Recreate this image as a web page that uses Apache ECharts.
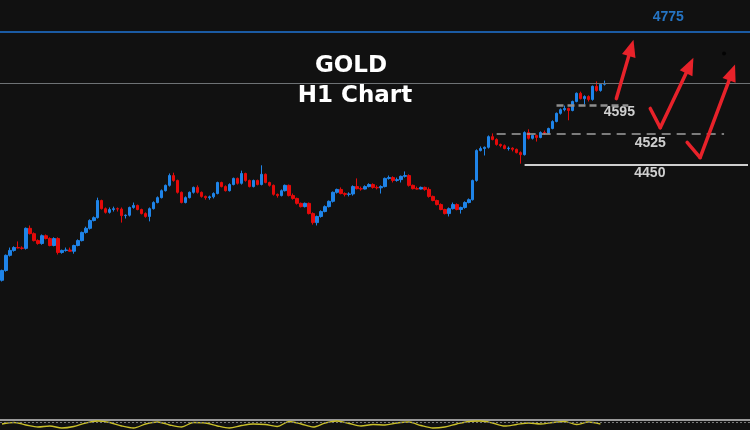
<!DOCTYPE html>
<html><head><meta charset="utf-8">
<script src="https://cdn.jsdelivr.net/npm/echarts/dist/echarts.min.js"></script>
<style>html,body{margin:0;padding:0;background:#111111;overflow:hidden}#c{width:750px;height:430px}</style>
</head><body><div id="c"></div>
<script>
// ---- H1 candles (price) ----
const opens = [4167,4191,4228,4240,4247,4246,4245,4294,4281,4264,
4257,4276,4269,4252,4269,4235,4240,4241,4238,4252,
4264,4284,4294,4313,4320,4362,4342,4333,4340,4342,
4341,4325,4326,4345,4350,4340,4330,4323,4342,4357,
4369,4386,4399,4423,4411,4382,4357,4369,4382,4394,
4382,4372,4369,4371,4379,4406,4396,4386,4401,4416,
4404,4428,4411,4396,4411,4401,4426,4406,4399,4377,
4374,4386,4399,4374,4367,4355,4347,4355,4330,4308,
4323,4335,4347,4360,4382,4389,4379,4377,4378,4396,
4391,4390,4396,4401,4394,4393,4396,4416,4418,4411,
4413,4421,4423,4399,4391,4390,4394,4389,4372,4362,
4352,4340,4330,4342,4352,4340,4345,4357,4364,4411,
4484,4489,4492,4518,4511,4499,4496,4489,4490,4487,
4479,4474,4528,4514,4521,4516,4528,4527,4538,4555,
4575,4584,4587,4582,4604,4624,4611,4616,4609,4641,
4631,4646];
const closes = [4191,4228,4240,4247,4246,4245,4294,4281,4264,4257,
4276,4269,4252,4269,4235,4240,4241,4238,4252,4264,
4284,4294,4313,4320,4362,4342,4333,4340,4342,4341,
4325,4326,4345,4350,4340,4330,4323,4342,4357,4369,
4386,4399,4423,4411,4382,4357,4369,4382,4394,4382,
4372,4369,4371,4379,4406,4396,4386,4401,4416,4404,
4428,4411,4396,4411,4401,4426,4406,4399,4377,4374,
4386,4399,4374,4367,4355,4347,4355,4330,4308,4323,
4335,4347,4360,4382,4389,4379,4377,4378,4396,4391,
4390,4396,4401,4394,4393,4396,4416,4418,4411,4413,
4421,4423,4399,4391,4390,4394,4389,4372,4362,4352,
4340,4330,4342,4352,4340,4345,4357,4364,4411,4484,
4489,4492,4518,4511,4499,4496,4489,4490,4487,4479,
4474,4528,4514,4521,4516,4528,4527,4538,4555,4575,
4584,4587,4582,4604,4624,4611,4616,4609,4641,4631,
4646,4648];
const highs = [4193,4230,4247,4250,4262,4250,4296,4301,4284,4267,
4279,4279,4272,4272,4272,4242,4247,4247,4254,4267,
4286,4298,4316,4323,4369,4364,4345,4345,4347,4345,
4345,4328,4347,4357,4352,4342,4333,4345,4360,4372,
4389,4401,4428,4430,4413,4384,4372,4384,4396,4399,
4384,4374,4374,4382,4408,4408,4399,4404,4418,4418,
4435,4430,4413,4413,4413,4448,4428,4408,4401,4379,
4389,4401,4401,4379,4369,4357,4357,4357,4333,4325,
4338,4350,4362,4384,4391,4394,4382,4382,4399,4416,
4396,4399,4404,4404,4399,4399,4418,4423,4421,4418,
4423,4433,4426,4401,4396,4396,4396,4394,4374,4364,
4355,4342,4345,4357,4355,4347,4360,4367,4413,4487,
4494,4494,4521,4526,4514,4501,4499,4494,4492,4489,
4482,4531,4536,4523,4523,4531,4533,4540,4558,4577,
4587,4594,4589,4606,4626,4628,4619,4619,4643,4653,
4648,4655];
const lows = [4164,4188,4225,4237,4245,4242,4242,4279,4262,4254,
4254,4267,4250,4250,4230,4232,4237,4237,4232,4250,
4262,4281,4291,4311,4318,4340,4330,4330,4335,4335,
4308,4318,4323,4342,4338,4328,4320,4311,4340,4355,
4367,4384,4396,4408,4379,4355,4355,4367,4379,4379,
4369,4364,4364,4367,4377,4394,4384,4384,4399,4401,
4401,4408,4394,4394,4399,4399,4404,4396,4374,4369,
4372,4384,4372,4364,4352,4345,4345,4328,4303,4301,
4320,4333,4345,4357,4379,4377,4372,4372,4374,4389,
4386,4389,4394,4391,4389,4379,4394,4413,4406,4408,
4406,4418,4396,4389,4389,4389,4386,4369,4360,4350,
4338,4328,4323,4340,4338,4330,4342,4355,4362,4408,
4482,4472,4489,4509,4496,4492,4487,4484,4482,4477,
4452,4472,4511,4511,4506,4514,4523,4526,4536,4553,
4572,4580,4558,4580,4602,4609,4597,4604,4606,4628,
4628,4643];

// ---- price levels ----
const resistanceLevel = 4775;
const currentPrice = 4648;
const levelValues = [4595, 4525, 4450];
const levelLabels = ['4775', '4595', '4525', '4450'];

// ---- oscillator (bottom panel), one value every 3 bars ----
const oscValues = [60,75,50,30,40,20,35,70,90,75,40,20,60,80,50,30,75,70,40,20,45,60,55,35,85,60,30,70,90,65,40,55,50,70,80,45,20,30,60,85,90,70,40,55,70,60,75,85,55,80,60];

// ---- title ----
const titleLines = ['GOLD', 'H1 Chart'];

const SLOTS = 188; // bar slots across the window (incl. empty right margin)
const cats = Array.from({length: SLOTS}, (_, i) => String(i));
const candleData = opens.map((o, i) => [o, closes[i], lows[i], highs[i]]);
const oscData = oscValues.map((v, j) => [j * 3, v]);

// annotation positions in (bar index, price)
const labelPts = [
  {value: [167, 4809], txt: levelLabels[0], color: '#2b8df0'},
  {value: [154.75, 4577], txt: levelLabels[1], color: '#ffffff'},
  {value: [162.5, 4501], txt: levelLabels[2], color: '#ffffff'},
  {value: [162.4, 4430], txt: levelLabels[3], color: '#ffffff'}
];
const arrows = [
  [[154, 4611], [157.7, 4735]],
  [[162.5, 4587], [165, 4540], [172.4, 4692]],
  [[171.75, 4504], [175, 4467], [183, 4675]]
];
const arrowSegs = [];
arrows.forEach(a => {
  for (let i = 0; i < a.length - 1; i++) {
    const last = i === a.length - 2;
    arrowSegs.push([
      {coord: a[i], symbol: 'none'},
      {coord: a[i + 1], symbol: last ? 'triangle' : 'none', symbolSize: last ? [14, 17] : 0}
    ]);
  }
});

const chart = echarts.init(document.getElementById('c'), null, {renderer: 'canvas'});
chart.setOption({
  backgroundColor: '#111111',
  animation: false,
  grid: [
    {left: 0, top: 0, width: 752, height: 419},
    {left: 0, top: 420, width: 752, height: 10}
  ],
  xAxis: [
    {type: 'category', data: cats, gridIndex: 0, boundaryGap: true, show: false},
    {type: 'value', gridIndex: 0, min: -0.5, max: SLOTS - 0.5, show: false},
    {type: 'value', gridIndex: 1, min: -0.5, max: SLOTS - 0.5, position: 'top',
     axisLine: {show: true, onZero: false, lineStyle: {color: '#9a9a9a', width: 2}},
     axisTick: {show: false}, axisLabel: {show: false}, splitLine: {show: false}}
  ],
  yAxis: [
    {type: 'value', gridIndex: 0, min: 3828, max: 4852, show: false, splitLine: {show: false}},
    {type: 'value', gridIndex: 1, min: 0, max: 100, show: false, splitLine: {show: false}}
  ],
  graphic: [
    {type: 'text', silent: true, style: {text: titleLines[0], x: 351, y: 66, textAlign: 'center', textVerticalAlign: 'middle',
      font: 'bold 23px "DejaVu Sans"', fill: '#ffffff'}},
    {type: 'text', silent: true, style: {text: titleLines[1], x: 355, y: 96, textAlign: 'center', textVerticalAlign: 'middle',
      font: 'bold 23px "DejaVu Sans"', fill: '#ffffff'}}
  ],
  series: [
    {
      type: 'candlestick', xAxisIndex: 0, yAxisIndex: 0, data: candleData, barWidth: 3,
      itemStyle: {color: '#1f84e8', color0: '#e40a0a', borderColor: '#1f84e8', borderColor0: '#e40a0a', borderWidth: 1},
      markLine: {
        silent: true, symbol: ['none', 'none'], label: {show: false}, animation: false,
        data: [
          {yAxis: resistanceLevel, lineStyle: {color: '#1f74d6', width: 1.5, type: 'solid'}},
          {yAxis: currentPrice, lineStyle: {color: '#6e7275', width: 1, type: 'solid'}},
          [{coord: ['139', levelValues[0]]}, {coord: ['157', levelValues[0]], lineStyle: {color: '#8e8e8e', width: 2.5, type: [7, 4]}}],
          [{coord: ['124', levelValues[1]]}, {coord: ['181', levelValues[1]], lineStyle: {color: '#a0a0a0', width: 1.5, type: [9, 6]}}],
          [{coord: ['131', levelValues[2]]}, {coord: ['187', levelValues[2]], lineStyle: {color: '#cfcfcf', width: 2, type: 'solid'}}]
        ]
      }
    },
    {
      type: 'scatter', xAxisIndex: 1, yAxisIndex: 0, symbolSize: 0, silent: true,
      data: labelPts.map(p => ({value: p.value, label: {show: true, position: 'inside', formatter: p.txt,
        color: p.color, fontFamily: 'Liberation Sans', fontWeight: 'bold', fontSize: 14}})),
      markLine: {
        silent: true, animation: false, label: {show: false},
        lineStyle: {color: '#e8222a', width: 3.5, type: 'solid', cap: 'round', join: 'round'},
        itemStyle: {color: '#e8222a'},
        data: arrowSegs
      }
    },
    {
      type: 'scatter', xAxisIndex: 1, yAxisIndex: 0, silent: true, symbolSize: 4,
      itemStyle: {color: '#000000'}, data: [[181, 4721]]
    },
    {
      type: 'line', xAxisIndex: 2, yAxisIndex: 1, data: oscData, showSymbol: false, silent: true,
      lineStyle: {color: '#c9bf2a', width: 1.3}, smooth: 0.3,
      markLine: {silent: true, symbol: ['none', 'none'], label: {show: false},
        data: [{yAxis: 80}], lineStyle: {color: '#777777', width: 1, type: [2, 2]}}
    }
  ]
});
</script></body></html>
